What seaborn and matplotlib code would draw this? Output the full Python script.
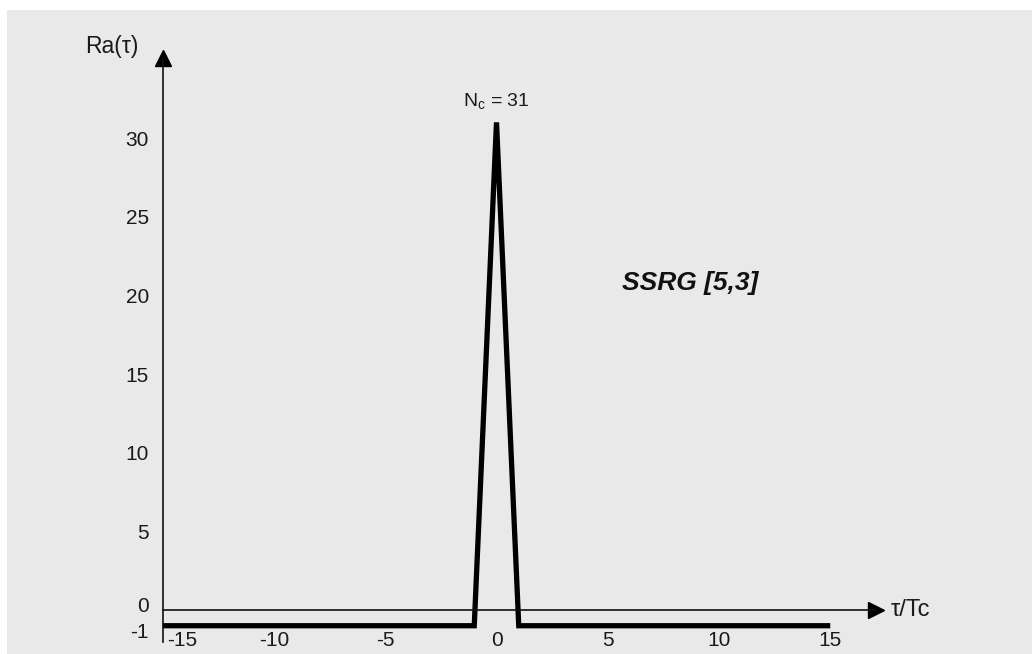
import numpy as np
import pandas as pd
import seaborn as sns
import matplotlib.pyplot as plt
from matplotlib.patches import Rectangle
from matplotlib.transforms import ScaledTranslation

# autocorrelation of SSRG [5,3] sequence (N_c = 31)
tau = [-15, -1, 0, 1, 15]
ra = [-1, -1, 31, -1, -1]
x_ticks = [-15, -10, -5, 0, 5, 10, 15]
y_ticks = [-1, 0, 5, 10, 15, 20, 25, 30]
n_chips = 31
title_text = 'SSRG [5,3]'

sns.set_theme(style='white')
plt.rcParams['font.family'] = ['Liberation Sans', 'DejaVu Sans']
plt.rcParams['mathtext.fontset'] = 'custom'
plt.rcParams['mathtext.rm'] = 'Liberation Sans'

W, H = 1032, 654
fig = plt.figure(figsize=(W / 100, H / 100), dpi=100, facecolor='white')
fig.patches.append(Rectangle((7 / W, -0.01), 1.01, (H - 10) / H + 0.01, transform=fig.transFigure,
                             facecolor='#e9e9e9', edgecolor='none', zorder=-10))

# pixel scale
px_x, px_y = 22.25, 15.73
x0_px, y0_px = 496.5, 610
xlim = (-15, 17.05)
ylim = (-2.05, 35.1)
left = (x0_px + xlim[0] * px_x) / W
bottom = (H - (y0_px - ylim[0] * px_y)) / H
ax = fig.add_axes([left, bottom, (xlim[1] - xlim[0]) * px_x / W, (ylim[1] - ylim[0]) * px_y / H])
ax.set_facecolor('none')

df = pd.DataFrame({'tau': tau, 'ra': ra})
sns.lineplot(data=df, x='tau', y='ra', sort=False, color='black', lw=3.8, ax=ax,
             clip_on=False, solid_capstyle='butt', solid_joinstyle='miter')

ax.set_xlim(*xlim)
ax.set_ylim(*ylim)
ax.set_xlabel('')
ax.set_ylabel('')

for s in ['top', 'right']:
    ax.spines[s].set_visible(False)
ax.spines['bottom'].set_position(('data', 0))
for s in ['left', 'bottom']:
    ax.spines[s].set_color('#111111')
    ax.spines[s].set_linewidth(1.2)

ax.set_xticks(x_ticks)
ax.set_xticklabels([str(v) for v in x_ticks])
ax.set_yticks(y_ticks)
ax.set_yticklabels([str(v) for v in y_ticks])
ax.tick_params(axis='x', direction='in', length=5, width=1, color='#111111', pad=15,
               labelsize=15, labelcolor='#1a1a1a')
ax.tick_params(axis='y', direction='in', length=5, width=1, color='#111111', pad=10,
               labelsize=15, labelcolor='#1a1a1a')

# nudge crowded labels like the original
xl = ax.get_xticklabels()
xl[0].set_transform(xl[0].get_transform() + ScaledTranslation(19 / 100, 0, fig.dpi_scale_trans))
yl = ax.get_yticklabels()
yl[0].set_transform(yl[0].get_transform() + ScaledTranslation(0, -5 / 100, fig.dpi_scale_trans))
yl[1].set_transform(yl[1].get_transform() + ScaledTranslation(0, 6 / 100, fig.dpi_scale_trans))

# axis arrows
ax.plot(1, 0, '>', color='black', ms=11, transform=ax.get_yaxis_transform(), clip_on=False)
ax.plot(-15, 1, '^', color='black', ms=11, transform=ax.get_xaxis_transform(), clip_on=False)

ax.text(-17.3, 35.85, 'Ra(τ)', ha='center', va='center', fontsize=16.5, color='#1a1a1a', clip_on=False)
ax.text(17.7, 0, 'τ/Tc', ha='left', va='center', fontsize=17, color='#1a1a1a', clip_on=False)
ax.text(0, 32.3, r'N$_\mathregular{c}$ = ' + str(n_chips), ha='center', va='center',
        fontsize=14, color='#1a1a1a')
ax.text(8.7, 20.8, title_text, ha='center', va='center', fontsize=19,
        fontweight='bold', fontstyle='italic', color='#111111')

fig.savefig('out.png', dpi=100)
